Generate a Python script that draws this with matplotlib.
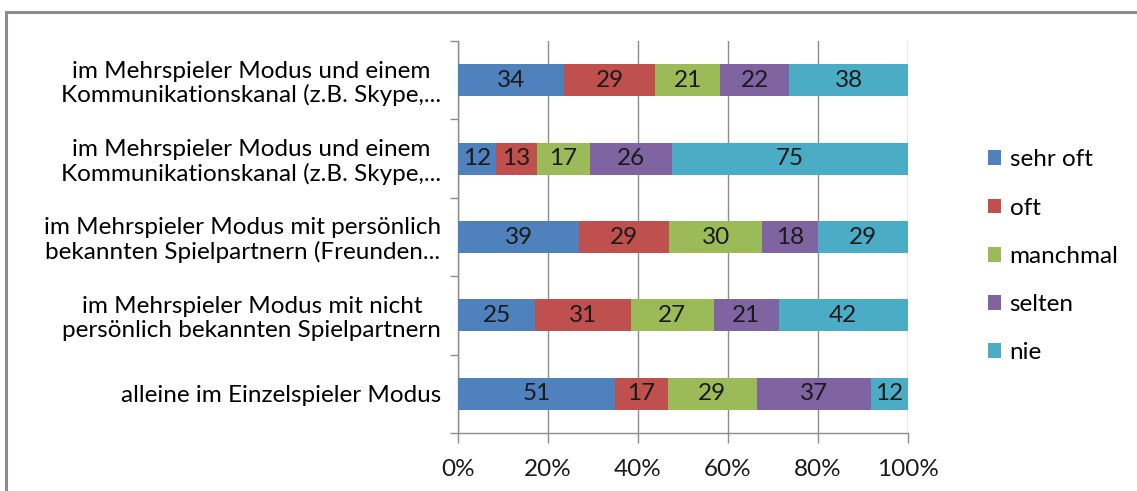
import matplotlib

matplotlib.use("Agg")
import matplotlib.pyplot as plt
import numpy as np
from matplotlib.patches import Patch, Rectangle

plt.rcParams["font.family"] = ["Lato", "DejaVu Sans"]

# ---- data (counts per answer, top row first) ----
CATEGORIES = [
    "im Mehrspieler Modus und einem\nKommunikationskanal (z.B. Skype,...",
    "im Mehrspieler Modus und einem\nKommunikationskanal (z.B. Skype,...",
    "im Mehrspieler Modus mit persönlich\nbekannten Spielpartnern (Freunden...",
    "im Mehrspieler Modus mit nicht\npersönlich bekannten Spielpartnern",
    "alleine im Einzelspieler Modus",
]
SERIES = ["sehr oft", "oft", "manchmal", "selten", "nie"]
SEHR_OFT = [34, 12, 39, 25, 51]
OFT = [29, 13, 29, 31, 17]
MANCHMAL = [21, 17, 30, 27, 29]
SELTEN = [22, 26, 18, 21, 37]
NIE = [38, 75, 29, 42, 12]
X_TICKS = [0, 20, 40, 60, 80, 100]

COLORS = ["#4F81BD", "#C0504D", "#9BBB59", "#8064A2", "#4BACC6"]
FS = 17.5

values = np.array([SEHR_OFT, OFT, MANCHMAL, SELTEN, NIE], dtype=float)
shares = values / values.sum(axis=0) * 100

fig = plt.figure(figsize=(11.37, 4.91), dpi=100)
ax = fig.add_axes([0.4028, 0.1181, 0.3958, 0.7984])

# outer chart frame (top and left visible, rest cut off in the screenshot)
fig.patches.append(Rectangle((6 / 1137, -0.1), 1.2, 1.1 - 11.5 / 491,
                             transform=fig.transFigure, fill=False,
                             edgecolor="#8c8c8c", linewidth=2.2))

ys = np.arange(len(CATEGORIES))
left = np.zeros(len(CATEGORIES))
for j, name in enumerate(SERIES):
    ax.barh(ys, shares[j], left=left, height=0.41, color=COLORS[j],
            label=name, zorder=3)
    for i in range(len(CATEGORIES)):
        ax.text(left[i] + shares[j][i] / 2, ys[i], f"{int(values[j][i])}",
                ha="center", va="center", fontsize=FS, color="#1a1a1a", zorder=4)
    left += shares[j]

ax.set_xlim(0, 100)
ax.set_ylim(len(CATEGORIES) - 0.5, -0.5)
ax.set_xticks(X_TICKS)
ax.set_xticklabels([f"{t}%" for t in X_TICKS], fontsize=FS)
ax.xaxis.grid(True, color="#8c8c8c", linewidth=1.0, zorder=0)
ax.set_axisbelow(True)

ax.set_yticks(np.arange(-0.5, len(CATEGORIES)), labels=[""] * (len(CATEGORIES) + 1))
ax.set_yticks(ys, minor=True)
ax.set_yticklabels(CATEGORIES, minor=True, fontsize=FS, ha="right",
                   multialignment="center", linespacing=1.15)
ax.tick_params(axis="y", which="major", length=6, color="#8c8c8c", width=1.0)
ax.tick_params(axis="y", which="minor", length=0, pad=12)
ax.tick_params(axis="x", length=7, color="#8c8c8c", width=1.0, pad=12,
               labelcolor="#1a1a1a")

for s in ["top", "right"]:
    ax.spines[s].set_visible(False)
for s in ["left", "bottom"]:
    ax.spines[s].set_color("#8c8c8c")
    ax.spines[s].set_linewidth(1.0)

handles = [Patch(facecolor=COLORS[j], label=SERIES[j]) for j in range(len(SERIES))]
ax.legend(handles=handles, loc="center left", bbox_to_anchor=(0.858, 0.478),
          bbox_transform=fig.transFigure, frameon=False, fontsize=FS,
          handlelength=0.55, handleheight=0.55, handletextpad=0.35,
          labelspacing=1.12, borderpad=0)

fig.savefig("out.png", dpi=100, facecolor="white")
